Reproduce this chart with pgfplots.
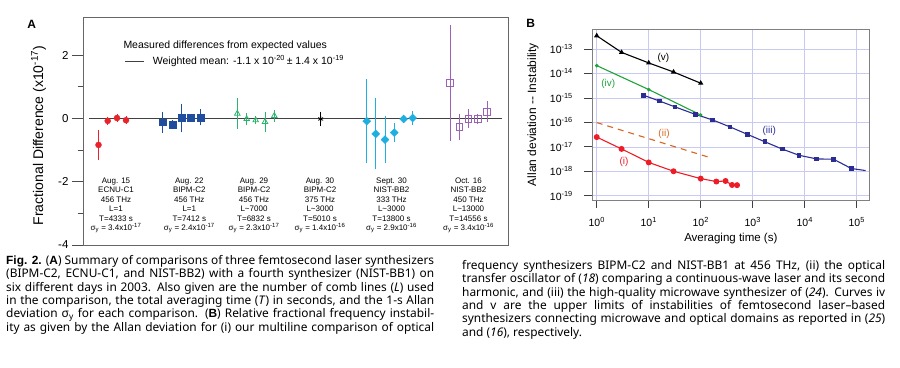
\documentclass[border=0pt]{standalone}
\usepackage{fontspec}
\setmainfont{Liberation Sans}
\newfontfamily\capfont{Noto Sans}
\newfontfamily\sigfont{Liberation Sans}
\newcommand{\cb}[1]{{\sigfont\bfseries #1}}
\usepackage{pgfplots}
\pgfplotsset{compat=1.18}
\definecolor{cred}{HTML}{E8232B}
\definecolor{cblue}{HTML}{1F4E9E}
\definecolor{cgreen}{HTML}{2DB36E}
\definecolor{ccyan}{HTML}{1EAFE0}
\definecolor{cpurple}{HTML}{9B62B8}
\definecolor{borange}{HTML}{D8661E}
\definecolor{bblue}{HTML}{2B2D95}
\definecolor{bgreen}{HTML}{1FA33A}
\definecolor{bred}{HTML}{EE1C25}
\definecolor{gridc}{HTML}{C8CAF2}
\tikzset{grouplab/.style={anchor=north, inner sep=0, align=center, font=\fontsize{8}{9.4}\selectfont}}
\begin{document}
\begin{tikzpicture}
\path[use as bounding box] (0,0) rectangle (900pt,-367pt);
% ---------------- Panel A ----------------
\begin{axis}[
  at={(83pt,-245pt)}, anchor=south west,
  width=425pt, height=228pt, scale only axis,
  xmin=83, xmax=508, ymin=-4, ymax=3.2,
  xtick=\empty,
  ytick={-4,-2,0,2}, yticklabels={-4,-2,0,2},
  minor ytick={-3,-1,1},
  tick pos=left, tick align=outside,
  major tick length=11pt, minor tick length=5.5pt,
  axis line style={draw=black!60, line width=0.9pt},
  every tick/.style={black!70, line width=0.8pt},
  yticklabel style={font=\fontsize{11.5}{13}\selectfont},
  ylabel={Fractional Difference (x10\textsuperscript{-17})},
  every axis y label/.style={at={(axis description cs:-0.1047,0.48)}, rotate=90, anchor=center, font=\fontsize{14}{16}\selectfont},
  clip=false,
  error bars/error bar style={line width=0.8pt},
  error bars/error mark options={mark size=2.6pt, line width=0.8pt},
]
\addplot[black!75, line width=0.9pt] coordinates {(89,0) (502,0)};
\addplot[black!75, line width=0.9pt] coordinates {(125,1.81) (144,1.81)};
% red circles
\addplot[cred, only marks, mark=*, mark size=3pt,
  error bars/.cd, y dir=both, y explicit]
  coordinates {(98.5,-0.84) +- (0,0.38) (107.7,-0.08) +- (0,0.05) (117,0.01) +- (0,0.05) (126,-0.06) +- (0,0.05)};
% blue squares
\addplot[cblue, only marks, mark=square*, mark size=3.4pt,
  error bars/.cd, y dir=both, y explicit]
  coordinates {(162.7,-0.12) +- (0,0.25) (172.3,-0.19) +- (0,0.05) (181.7,0.01) +- (0,0.37) (191,0.01) +- (0,0.05) (200.3,0.03) +- (0,0.17)};
% green triangles
\addplot[cgreen, only marks, mark=triangle, mark size=3.2pt, mark options={line width=0.8pt},
  error bars/.cd, y dir=both, y explicit]
  coordinates {(237.3,0.15) +- (0,0.41) (246.7,-0.02) +- (0,0.12) (255.7,-0.06) +- (0,0.04) (265,-0.11) +- (0,0.23) (274.3,0.08) +- (0,0.1)};
% black asterisk
\addplot[black, only marks, mark=asterisk, mark size=2.8pt, mark options={line width=0.8pt},
  error bars/.cd, y dir=both, y explicit]
  coordinates {(320.7,-0.02) +- (0,0.15)};
% cyan diamonds
\addplot[ccyan, only marks, mark=square*, mark size=2.8pt, mark options={rotate=45},
  error bars/.cd, y dir=both, y explicit]
  coordinates {(366.7,-0.09) +- (0,1.25) (375.7,-0.49) +- (0,1.04) (385,-0.67) +- (0,0.67) (394.3,-0.45) +- (0,0.21) (403.7,-0.02) +- (0,0.05) (412.7,0.01) +- (0,0.13)};
% purple open squares
\addplot[cpurple, only marks, mark=square, mark size=3.4pt, mark options={line width=0.8pt},
  error bars/.cd, y dir=both, y explicit]
  coordinates {(450,1.11) +- (0,1.755) (459.3,-0.27) +- (0,0.34) (468.3,-0.01) +- (0,0.21) (477.7,-0.01) +- (0,0.08) (487,0.21) +- (0,0.24)};
\node[anchor=west, inner sep=0, font=\fontsize{10.5}{12}\selectfont] at (axis cs:123.3,2.29) {Measured differences from expected values};
\node[anchor=west, inner sep=0, font=\fontsize{10.5}{12}\selectfont] at (axis cs:152.7,1.81) {Weighted mean: -1.1 x 10\textsuperscript{-20}{\,}± 1.4 x 10\textsuperscript{-19}};
\node[grouplab] at (axis cs:116,-1.876) {Aug. 15\\ECNU-C1\\456 THz\\L=1\\T=4333 s\\σ\textsubscript{y} = 3.4x10\textsuperscript{-17}};
\node[grouplab] at (axis cs:189.3,-1.876) {Aug. 22\\BIPM-C2\\456 THz\\L=1\\T=7412 s\\σ\textsubscript{y} = 2.4x10\textsuperscript{-17}};
\node[grouplab] at (axis cs:254,-1.876) {Aug. 29\\BIPM-C2\\456 THz\\L\textasciitilde 7000\\T=6832 s\\σ\textsubscript{y} = 2.3x10\textsuperscript{-17}};
\node[grouplab] at (axis cs:320,-1.876) {Aug. 30\\BIPM-C2\\375 THz\\L\textasciitilde 3000\\T=5010 s\\σ\textsubscript{y} = 1.4x10\textsuperscript{-16}};
\node[grouplab] at (axis cs:391.5,-1.876) {Sept. 30\\NIST-BB2\\333 THz\\L\textasciitilde 3000\\T=13800 s\\σ\textsubscript{y} = 2.9x10\textsuperscript{-16}};
\node[grouplab] at (axis cs:468.5,-1.876) {Oct. 16\\NIST-BB2\\450 THz\\L\textasciitilde 13000\\T=14556 s\\σ\textsubscript{y} = 3.4x10\textsuperscript{-16}};
\end{axis}
\node[font=\bfseries\fontsize{12}{14}\selectfont] at (31.7pt,-24.3pt) {A};
\node[font=\bfseries\fontsize{12}{14}\selectfont] at (530.7pt,-23.3pt) {B};
% ---------------- Panel B ----------------
\begin{axis}[
  at={(592.3pt,-200pt)}, anchor=south west,
  width=277pt, height=170.7pt, scale only axis,
  xmode=log, ymode=log, log basis x=10, log basis y=10,
  xmin=0.822, xmax=1.746e5, ymin=6.67e-20, ymax=6.4e-13,
  xtick={1,10,100,1000,10000,100000},
  xticklabels={10\textsuperscript{0},10\textsuperscript{1},10\textsuperscript{2},10\textsuperscript{3},10\textsuperscript{4},10\textsuperscript{5}},
  ytick={1e-19,1e-18,1e-17,1e-16,1e-15,1e-14,1e-13},
  yticklabels={10\textsuperscript{-19},10\textsuperscript{-18},10\textsuperscript{-17},10\textsuperscript{-16},10\textsuperscript{-15},10\textsuperscript{-14},10\textsuperscript{-13}},
  yminorticks=false,
  tick pos=left, tick align=outside,
  major tick length=8pt, minor tick length=4pt,
  grid=major, grid style={gridc, line width=0.6pt},
  axis line style={draw=black!50, line width=1pt},
  every tick/.style={black!75, line width=0.8pt},
  ticklabel style={font=\fontsize{10.5}{12}\selectfont},
  xticklabel style={yshift=-6pt},
  yticklabel style={xshift=-8pt},
  xlabel={Averaging time (s)},
  every axis x label/.style={at={(axis description cs:0.5,-0.227)}, anchor=center, font=\fontsize{11.5}{13}\selectfont},
  ylabel={Allan deviation -{}- Instability},
  every axis y label/.style={at={(axis description cs:-0.214,0.5)}, rotate=90, anchor=center, font=\fontsize{12}{14}\selectfont},
  clip=false,
]
\addplot[black, line width=1.1pt, mark=triangle*, mark size=2pt] coordinates {(1,3.5e-13) (3,7.3e-14) (10,2.7e-14) (30,1.15e-14) (100,4.0e-15)};
\addplot[bgreen, line width=1.1pt, mark=*, mark size=1.2pt] coordinates {(1,2.1e-14) (10,2.2e-15) (100,2.0e-16)};
\addplot[bblue, line width=1.1pt, mark=square*, mark size=1.8pt, mark indices={1,...,13}] coordinates {(8,1.28e-15) (16,7.5e-16) (32,4.3e-16) (80,2.1e-16) (169,1.26e-16) (367,6.5e-17) (800,3.2e-17) (1720,1.6e-17) (3690,8.1e-18) (7800,4.5e-18) (17000,3.2e-18) (36000,3.1e-18) (78500,1.3e-18) (148000,1.07e-18)};
\addplot[borange, line width=1.1pt, dash pattern=on 6pt off 5pt] coordinates {(1,9.8e-17) (146,3.7e-18)};
\addplot[bred, line width=1.1pt, mark=*, mark size=2.4pt] coordinates {(1,2.5e-17) (3,8.2e-18) (10,2.3e-18) (30,1.0e-18) (100,5.0e-19) (200,3.8e-19) (300,4.0e-19) (400,2.75e-19) (500,2.7e-19)};
\node[font=\fontsize{10}{12}\selectfont, text=black] at (axis cs:19.1,4.17e-14) {(v)};
\node[font=\fontsize{10}{12}\selectfont, text=bgreen] at (axis cs:1.67,3.72e-15) {(iv)};
\node[font=\fontsize{10}{12}\selectfont, text=bblue] at (axis cs:2085,4.43e-17) {(iii)};
\node[font=\fontsize{10}{12}\selectfont, text=borange] at (axis cs:19.7,3.24e-17) {(ii)};
\node[font=\fontsize{10}{12}\selectfont, text=bred] at (axis cs:3.35,2.32e-18) {(i)};
\end{axis}
% ---------------- Caption ----------------
\node[anchor=base west, inner sep=0] at (6pt,-264.5pt) {\parbox[t]{428pt}{\capfont\fontsize{11.9}{13.3}\selectfont
\makebox[\linewidth][s]{\cb{Fig. 2.} (\cb{A}) Summary of comparisons of three femtosecond laser synthesizers}\\
\makebox[\linewidth][s]{(BIPM-C2, ECNU-C1, and NIST-BB2) with a fourth synthesizer (NIST-BB1) on}\\
\makebox[\linewidth][s]{six different days in 2003. Also given are the number of comb lines (\textit{L}) used}\\
\makebox[\linewidth][s]{in the comparison, the total averaging time (\textit{T}) in seconds, and the 1-s Allan}\\
\makebox[\linewidth][s]{deviation σ\textsubscript{y} for each comparison. (\cb{B}) Relative fractional frequency instabil-}\\
\makebox[\linewidth][s]{ity as given by the Allan deviation for (i) our multiline comparison of optical}}};
\node[anchor=base west, inner sep=0] at (462pt,-269.5pt) {\parbox[t]{423pt}{\capfont\fontsize{11.9}{13.3}\selectfont
\makebox[\linewidth][s]{frequency synthesizers BIPM-C2 and NIST-BB1 at 456 THz, (ii) the optical}\\
\makebox[\linewidth][s]{transfer oscillator of (\textit{18}) comparing a continuous-wave laser and its second}\\
\makebox[\linewidth][s]{harmonic, and (iii) the high-quality microwave synthesizer of (\textit{24}). Curves iv}\\
\makebox[\linewidth][s]{and v are the upper limits of instabilities of femtosecond laser–based}\\
\makebox[\linewidth][s]{synthesizers connecting microwave and optical domains as reported in (\textit{25})}\\
and (\textit{16}), respectively.}};
\end{tikzpicture}
\end{document}
